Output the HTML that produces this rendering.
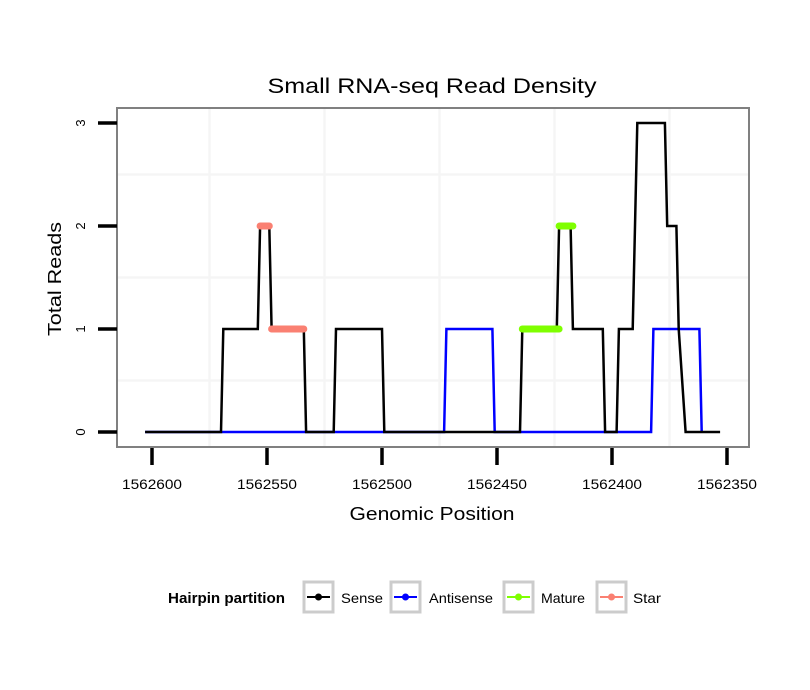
<!DOCTYPE html>
<html><head><meta charset="utf-8"><style>
html,body{margin:0;padding:0;background:#fff;}
svg{display:block;font-family:"Liberation Sans",sans-serif;}
</style></head><body>
<svg id="chart" width="810" height="690" viewBox="0 0 810 690">
<rect width="810" height="690" fill="#fff"/>
<text x="432" y="93" font-size="21" text-anchor="middle" textLength="329" lengthAdjust="spacingAndGlyphs">Small RNA-seq Read Density</text>
<g id="grid"></g>
<g id="series"></g>
<rect x="117" y="108" width="632" height="339" fill="none" stroke="#808080" stroke-width="2"/>
<g id="axes"></g>
<text x="432" y="520" font-size="18" text-anchor="middle" textLength="165" lengthAdjust="spacingAndGlyphs">Genomic Position</text>
<text transform="translate(61,279) rotate(-90)" font-size="18" text-anchor="middle" textLength="114" lengthAdjust="spacingAndGlyphs">Total Reads</text>
<g>
<text x="168" y="603" font-size="15" font-weight="bold" textLength="117" lengthAdjust="spacingAndGlyphs">Hairpin partition</text>
<g><rect x="304" y="582" width="29" height="30" fill="#fff" stroke="#ccc" stroke-width="3"/><line x1="307" y1="597" x2="330" y2="597" stroke="#000" stroke-width="2"/><circle cx="318.5" cy="597" r="3.5" fill="#000"/><text x="341" y="603" font-size="14" textLength="42" lengthAdjust="spacingAndGlyphs">Sense</text></g>
<g><rect x="391" y="582" width="29" height="30" fill="#fff" stroke="#ccc" stroke-width="3"/><line x1="394" y1="597" x2="417" y2="597" stroke="#00f" stroke-width="2"/><circle cx="405.5" cy="597" r="3.5" fill="#00f"/><text x="429" y="603" font-size="14" textLength="64" lengthAdjust="spacingAndGlyphs">Antisense</text></g>
<g><rect x="504" y="582" width="29" height="30" fill="#fff" stroke="#ccc" stroke-width="3"/><line x1="507" y1="597" x2="530" y2="597" stroke="#7fff00" stroke-width="2"/><circle cx="518.5" cy="597" r="3.5" fill="#7fff00"/><text x="541" y="603" font-size="14" textLength="44" lengthAdjust="spacingAndGlyphs">Mature</text></g>
<g><rect x="597" y="582" width="29" height="30" fill="#fff" stroke="#ccc" stroke-width="3"/><line x1="600" y1="597" x2="623" y2="597" stroke="#fa8072" stroke-width="2"/><circle cx="611.5" cy="597" r="3.5" fill="#fa8072"/><text x="633" y="603" font-size="14" textLength="28" lengthAdjust="spacingAndGlyphs">Star</text></g>
</g>
</svg>
<script>
const xTicks = [1562600, 1562550, 1562500, 1562450, 1562400, 1562350];
const yTicks = [0, 1, 2, 3];
const senseX = [1562603,1562570,1562569,1562554,1562553,1562549,1562548,1562534,1562533,1562521,1562520,1562500,1562499,1562440,1562439,1562424,1562423,1562418,1562417,1562404,1562403,1562398,1562397,1562391,1562389,1562377,1562376,1562372,1562371,1562368,1562353];
const senseY = [0,0,1,1,2,2,1,1,0,0,1,1,0,0,1,1,2,2,1,1,0,0,1,1,3,3,2,2,1,0,0];
const antiX = [1562603,1562473,1562472,1562452,1562451,1562383,1562382,1562362,1562361];
const antiY = [0,0,1,1,0,0,1,1,0];
const matureX = [[1562439,1562423],[1562423,1562417]];
const matureY = [1, 2];
const starX = [[1562553,1562549],[1562548,1562534]];
const starY = [2, 1];

const NS = "http://www.w3.org/2000/svg";
function xs(p){ return 152 + (1562600 - p) * 2.3; }
function ys(v){ return 432 - v * 103; }
function mk(tag, attrs, parent){ const e = document.createElementNS(NS, tag); for (const k in attrs) e.setAttribute(k, attrs[k]); parent.appendChild(e); return e; }
const grid = document.getElementById('grid'), series = document.getElementById('series'), axes = document.getElementById('axes');

for (let i = 0; i < xTicks.length - 1; i++) {
  const gx = (xs(xTicks[i]) + xs(xTicks[i+1])) / 2;
  const l = mk('line', {x1: gx, x2: gx, y1: 108, y2: 447, stroke: '#f5f5f5', 'stroke-width': 2.5}, grid);
  
  
}
for (let i = 0; i < yTicks.length - 1; i++) {
  const gy = (ys(yTicks[i]) + ys(yTicks[i+1])) / 2;
  const l = mk('line', {x1: 117, x2: 749, y1: gy, y2: gy, stroke: '#f5f5f5', 'stroke-width': 2.5}, grid);
  
  
}
xTicks.forEach(t => {
  const x = xs(t);
  const l = mk('line', {x1: x, x2: x, y1: 448, y2: 465, stroke: '#000', 'stroke-width': 3.5}, axes);
  
  
  const tx = mk('text', {x: x, y: 489, 'font-size': 14, 'text-anchor': 'middle', textLength: 60, lengthAdjust: 'spacingAndGlyphs'}, axes);
  tx.textContent = t;
  
  
});
yTicks.forEach(t => {
  const y = ys(t);
  const l = mk('line', {x1: 98, x2: 117, y1: y, y2: y, stroke: '#000', 'stroke-width': 3.5}, axes);
  
  
  const tx = mk('text', {transform: `translate(85,${y}) rotate(-90)`, 'font-size': 13, 'text-anchor': 'middle'}, axes);
  tx.textContent = t;
  
  
});
function poly(X, Y, color, name){
  const pts = X.map((p, i) => xs(p) + ',' + ys(Y[i])).join(' ');
  const pl = mk('polyline', {points: pts, fill: 'none', stroke: color, 'stroke-width': 2.5, 'stroke-linejoin': 'miter'}, series);
  
  
}
poly(antiX, antiY, '#0000ff', 'antisense-line');
poly(senseX, senseY, '#000000', 'sense-line');
function segs(X, Y, color, name){
  X.forEach((s, i) => {
    const l = mk('line', {x1: xs(s[0]), x2: xs(s[1]), y1: ys(Y[i]), y2: ys(Y[i]), stroke: color, 'stroke-width': 7, 'stroke-linecap': 'round'}, series);
    
    
  });
}
segs(matureX, matureY, '#7fff00', 'mature-segment');
segs(starX, starY, '#fa8072', 'star-segment');
</script>
</body></html>
